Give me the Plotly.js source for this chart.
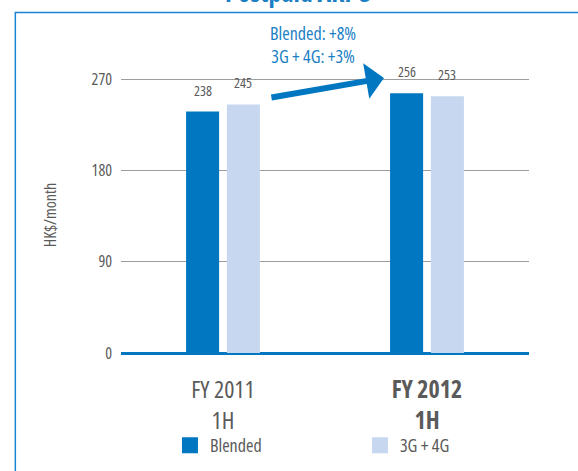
<!DOCTYPE html>
<html>
<head>
<meta charset="utf-8">
<script src="https://cdn.plot.ly/plotly-3.0.1.min.js"></script>
<style>
html,body{margin:0;padding:0;background:#fff;overflow:hidden;}
#chart{width:578px;height:471px;}
svg text{font-stretch:condensed;}
#probe{position:absolute;left:-9999px;top:-9999px;white-space:nowrap;font-size:40px;font-stretch:condensed;}
</style>
</head>
<body>
<div id="chart"></div>
<span id="probe">Blended: +8% 3G + 4G 270</span>
<script>
var categories = ['FY 2011 1H', 'FY 2012 1H'];
var tickLabels = ['FY 2011<br>1H', '<b>FY 2012<br>1H</b>'];
var seriesNames = ['Blended', '3G + 4G'];
var blended = [238, 256];
var g34 = [245, 253];
var yTicks = [0, 90, 180, 270];
var chartTitle = 'Postpaid ARPU';
var growthText = 'Blended: +8%<br>3G + 4G: +3%';
var yTitle = 'HK$/month';

// pick the narrowest installed sans font (condensed stretch applied via CSS)
var probe = document.getElementById('probe');
function w(fam) { probe.style.fontFamily = fam; return probe.offsetWidth; }
var candidates = ['Liberation Sans Narrow', 'Roboto Condensed', 'Open Sans Condensed', 'Noto Sans', 'Roboto',
  'Open Sans', 'Lato', 'Liberation Sans', 'DejaVu Sans', 'Inter'];
var best = 'Liberation Sans', bestW = 1e9;
candidates.forEach(function (f) {
  var a = w('"' + f + '", monospace'), b = w('"' + f + '", serif');
  var installed = (a !== w('monospace')) || (b !== w('serif'));
  if (installed && a < bestW) { bestW = a; best = f; }
});
probe.parentNode.removeChild(probe);
var FONT = '"' + best + '", sans-serif';

var GRAY = '#5a5a5a';
var BLUE = '#0077c0';
var LIGHT = '#c6d7ef';
var TBLUE = '#1b7fc4';

var traces = [
  {type: 'bar', name: seriesNames[0], x: categories, y: blended, showlegend: false,
   marker: {color: BLUE}, width: 0.162, offset: -0.181, hoverinfo: 'none'},
  {type: 'bar', name: seriesNames[1], x: categories, y: g34, showlegend: false,
   marker: {color: LIGHT}, width: 0.162, offset: 0.019, hoverinfo: 'none'},
  // legend entries (larger key squares), no drawn bars
  {type: 'bar', name: seriesNames[0], x: [categories[0]], y: [null], hoverinfo: 'none',
   marker: {color: BLUE, line: {color: BLUE, width: 4}}, width: 0.162, offset: -0.181},
  {type: 'bar', name: seriesNames[1], x: [categories[0]], y: [null], hoverinfo: 'none',
   marker: {color: LIGHT, line: {color: LIGHT, width: 4}}, width: 0.162, offset: 0.019}
];

var annotations = [];
categories.forEach(function (c, i) {
  annotations.push({x: i - 0.1, y: blended[i], xref: 'x', yref: 'y', text: String(blended[i]),
    showarrow: false, yanchor: 'bottom', yshift: 10, font: {family: FONT, size: 14, color: GRAY}});
  annotations.push({x: i + 0.1, y: g34[i], xref: 'x', yref: 'y', text: String(g34[i]),
    showarrow: false, yanchor: 'bottom', yshift: 10, font: {family: FONT, size: 14, color: GRAY}});
});
annotations.push({x: 0.44, y: 1.025, xref: 'x', yref: 'paper', yanchor: 'bottom', text: growthText,
  showarrow: false, font: {family: FONT, size: 18, color: TBLUE}});
annotations.push({x: 0.789, y: 271, xref: 'x', yref: 'y', ax: 0.23, ay: 251.6, axref: 'x', ayref: 'y',
  text: '', showarrow: true, arrowhead: 1, arrowsize: 1, arrowwidth: 6, arrowcolor: BLUE});
annotations.push({x: 0.436, y: 1.237, xref: 'paper', yref: 'paper', yanchor: 'bottom', text: '<b>' + chartTitle + '</b>',
  showarrow: false, font: {family: FONT, size: 26, color: TBLUE}});

var layout = {
  width: 578, height: 471,
  margin: {l: 121, r: 49, t: 77, b: 118, pad: 0, autoexpand: false},
  paper_bgcolor: '#ffffff', plot_bgcolor: '#ffffff',
  font: {family: FONT, color: GRAY},
  showlegend: true,
  legend: {orientation: 'h', x: 0.12, xanchor: 'left', y: -0.335, yanchor: 'middle',
    entrywidth: 145, font: {family: FONT, size: 18, color: GRAY}, bgcolor: 'rgba(0,0,0,0)'},
  barmode: 'group',
  xaxis: {type: 'category', categoryarray: categories, tickvals: categories, ticktext: tickLabels,
    range: [-0.5, 1.5], showgrid: false, showline: false, zeroline: false, ticks: '',
    ticklabelstandoff: 20, tickfont: {family: FONT, size: 24, color: GRAY}, fixedrange: true},
  yaxis: {range: [0, 272], tickvals: yTicks, ticktext: yTicks.map(String), showgrid: true, gridcolor: '#9d9d9d', gridwidth: 1,
    zeroline: true, zerolinecolor: BLUE, zerolinewidth: 3, showline: false, ticks: '',
    ticklabelstandoff: 8, tickfont: {family: FONT, size: 16, color: GRAY},
    title: {text: yTitle, standoff: 30, font: {family: FONT, size: 16, color: GRAY}}, fixedrange: true},
  shapes: [{type: 'rect', xref: 'paper', yref: 'paper', x0: -0.259, x1: 2, y0: -1, y1: 1.2337,
    line: {color: '#1a84d4', width: 1.5}, layer: 'below'}],
  annotations: annotations
};

Plotly.newPlot('chart', traces, layout, {displayModeBar: false, staticPlot: true});
</script>
</body>
</html>
